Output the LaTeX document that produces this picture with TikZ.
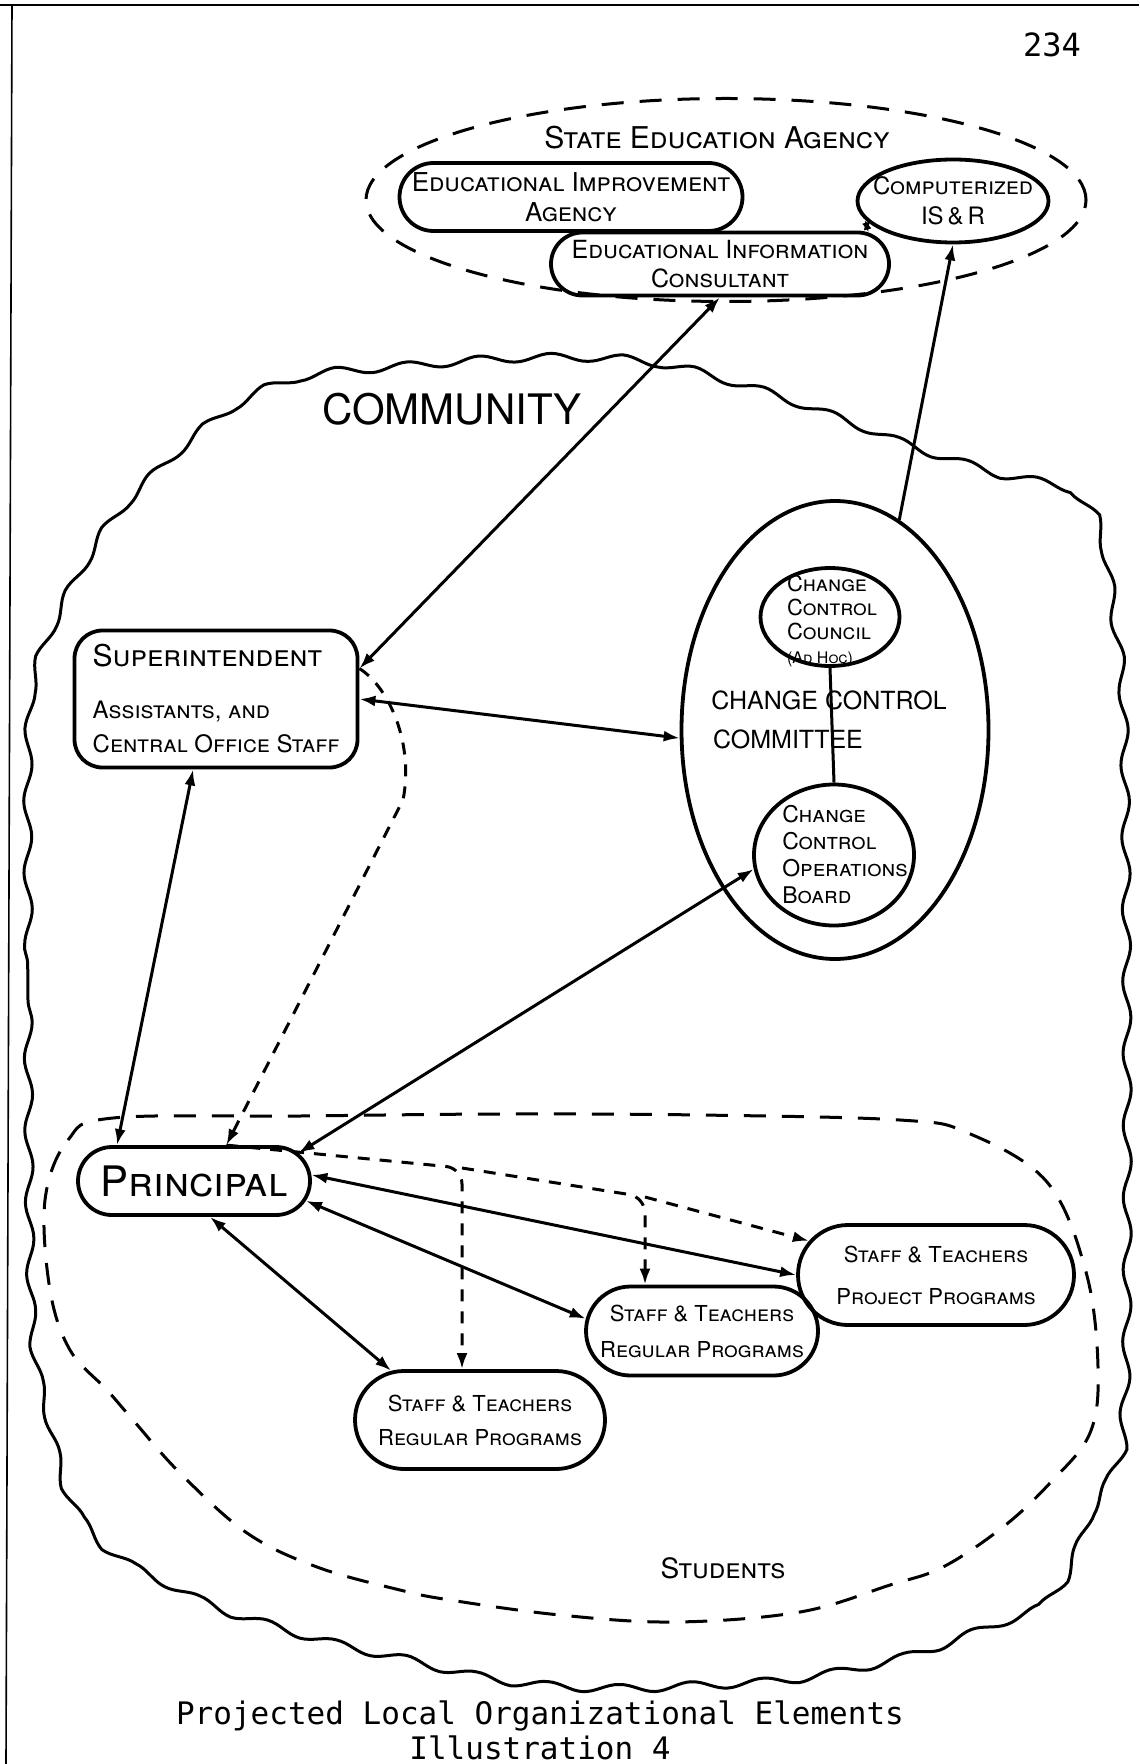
\documentclass[tikz,border=0pt]{standalone}
\usepackage{fontspec}
\setmainfont{TeX Gyre Heros}
\newfontfamily\typewriter{DejaVu Sans Mono}
\usepackage{tikz}
\usetikzlibrary{arrows.meta, shapes.geometric, shapes.misc, decorations.pathmorphing}

\begin{document}
\begin{tikzpicture}[x=0.5pt, y=-0.5pt,
		>={Latex[length=8pt, width=5.5pt]},   % arrow tips as drawn by hand
		blob/.style={draw, rounded rectangle, line width=1.9pt, inner sep=0pt, align=center, font=\fontsize{11}{12}\selectfont\scshape},
		oval/.style={draw, ellipse, line width=1.9pt, inner sep=0pt},
		box/.style={draw, rectangle, rounded corners=14pt, line width=1.9pt, inner sep=0pt},
		txt/.style={inner sep=0pt, font=\fontsize{11}{12}\selectfont\scshape},
		link/.style={<->, line width=1.5pt},
		dlink/.style={->, line width=1.5pt, dash pattern=on 6pt off 5pt},
		region/.style={line width=1.5pt, dash pattern=on 11pt off 8pt},
		wavy/.style={line width=1.5pt, decorate, decoration={snake, segment length=36pt, amplitude=2pt}}]
		\useasboundingbox (0,0) rectangle (1139,1764);
		% Rand der Vorlage
		\draw[line width=1.2pt] (0,5) -- (1139,5);
		\draw[line width=0.8pt] (12,5) -- (6,1764);
		\node[font=\typewriter\fontsize{16}{18}\selectfont] (pgno) at (1052,45) {234};
		% State Education Agency
		\node[draw, ellipse, region, minimum width=360pt, minimum height=101.5pt] (sea) at (726,200) {};
		\node[txt, font=\fontsize{15}{17}\selectfont\scshape] (sealbl) at (717,138) {State Education Agency};
		\node[blob, minimum width=171.5pt, minimum height=34pt, font=\fontsize{13}{15}\selectfont\scshape] (eia) at (571,197) {Educational Improvement\\Agency};
		\node[blob, minimum width=169pt, minimum height=31.5pt, font=\fontsize{12.5}{14.5}\selectfont\scshape] (eic) at (720,264) {Educational Information\\Consultant};
		\node[oval, minimum width=95.5pt, minimum height=41.5pt] (isr) at (953,201) {};
		\node[txt, align=center, font=\fontsize{12}{15}\selectfont\scshape] (isrT) at (isr) {Computerized\\IS\,\&\,R};
		% Community
		\draw[wavy] plot[smooth cycle, tension=0.6] coordinates {(28,700) (28,1000) (32,1300) (47,1390) (70,1480) (110,1533) (157,1560) (213,1588) (267,1606) (333,1625) (400,1640) (500,1662) (600,1670) (700,1667) (800,1660) (907,1638) (993,1607) (1037,1590) (1067,1553) (1090,1493) (1117,1443) (1122,1397) (1125,1300) (1125,1000) (1122,700) (1113,600) (1100,517) (1077,473) (1003,455) (917,428) (850,402) (760,370) (650,342) (530,338) (400,347) (300,358) (227,392) (150,460) (100,520) (48,620)};
		\node[font=\fontsize{21}{24}\selectfont] (comlbl) at (452,409) {COMMUNITY};
		\node[box, minimum width=141.5pt, minimum height=68.5pt, align=left, font=\fontsize{12}{13}\selectfont\scshape] (sup) at (216,699) {{\fontsize{15}{17}\selectfont Superintendent}\\[13pt]Assistants, and\\[4pt]Central Office Staff};
		% Change control
		\node[oval, minimum width=153.5pt, minimum height=229pt] (ccc) at (835,730) {};
		\node[oval, minimum width=69.5pt, minimum height=49pt] (council) at (830,617) {};
		\node[txt, align=left, font=\fontsize{11}{12}\selectfont\scshape] (councilT) at (832,621) {Change\\Control\\Council\\{\fontsize{8}{9}\selectfont(Ad Hoc)}};
		\node[oval, minimum width=80pt, minimum height=70.5pt] (board) at (834,855) {};
		\node[txt, align=left, font=\fontsize{11.5}{13.5}\selectfont\scshape] (boardT) at (845,855) {Change\\Control\\Operations\\Board};
		\node[font=\fontsize{12.5}{14}\selectfont] (cctop) at (829,700) {CHANGE CONTROL};
		\node[font=\fontsize{12.5}{14}\selectfont] (ccbot) at (788,739) {COMMITTEE};
		\draw[line width=1.5pt] (council.south) -- (board.north);
		% Students
		\draw[region] plot[smooth cycle, tension=0.6] coordinates {(45,1200) (68,1140) (113,1118) (300,1116) (500,1114) (700,1115) (900,1120) (968,1133) (1047,1182) (1086,1272) (1098,1367) (1090,1433) (1050,1483) (1003,1527) (943,1567) (890,1585) (800,1612) (675,1622) (560,1615) (450,1600) (400,1590) (317,1567) (247,1533) (180,1473) (133,1420) (107,1390) (70,1350) (50,1290)};
		\node[txt, font=\fontsize{14}{16}\selectfont\scshape] (stulbl) at (723,1568) {Students};
		\node[blob, minimum width=116pt, minimum height=34pt, font=\fontsize{21}{23}\selectfont\scshape] (pri) at (194,1181) {Principal};
		\node[blob, minimum width=138pt, minimum height=50pt] (stp) at (936,1275) {Staff \& Teachers\\[9pt]Project Programs};
		\node[blob, minimum width=116pt, minimum height=44.5pt] (str1) at (702,1331) {Staff \& Teachers\\[6pt]Regular Programs};
		\node[blob, minimum width=125pt, minimum height=49pt] (str2) at (480,1420) {Staff \& Teachers\\[5pt]Regular Programs};
		% Verbindungen
		\draw[link] (eic.south) -- (sup.12);
		\draw[link, {Latex[length=5pt, width=4pt]}-{Latex[length=5pt, width=4pt]}] (isr.192) -- (eic.12);
		\draw[->, line width=1.5pt] (ccc.73) -- (isr.south);
		\draw[link] (sup.east) -- (ccc.183);
		\draw[link] (sup.-108) -- (pri.155);
		\draw[dlink] (sup.12) .. controls (390,688) and (414,745) .. (403,800) -- (pri.48);
		\draw[link] (board.190) -- (pri.15);
		\draw[link] (pri.3) -- (stp.west);
		\draw[link] (pri.-10) -- (str1.174);
		\draw[link] (pri.-66) -- (str2.151);
		\coordinate (bus1) at (462,1168);
		\coordinate (bus2) at (645,1197);
		\draw[dlink, rounded corners=8pt] (pri.48) -- (bus1) -- (str2.north -| bus1);
		\draw[dlink, rounded corners=8pt] (bus1) -- (bus2) -- (str1.north -| bus2);
		\draw[dlink] (bus2) -- (stp.165);
		% Unterschrift
		\node[font=\typewriter\fontsize{15.5}{17}\selectfont] (cap1) at (540,1716) {Projected Local Organizational Elements};
		\node[font=\typewriter\fontsize{15.5}{17}\selectfont] (cap2) at (540,1748) {Illustration 4};
	\end{tikzpicture}
\end{document}
